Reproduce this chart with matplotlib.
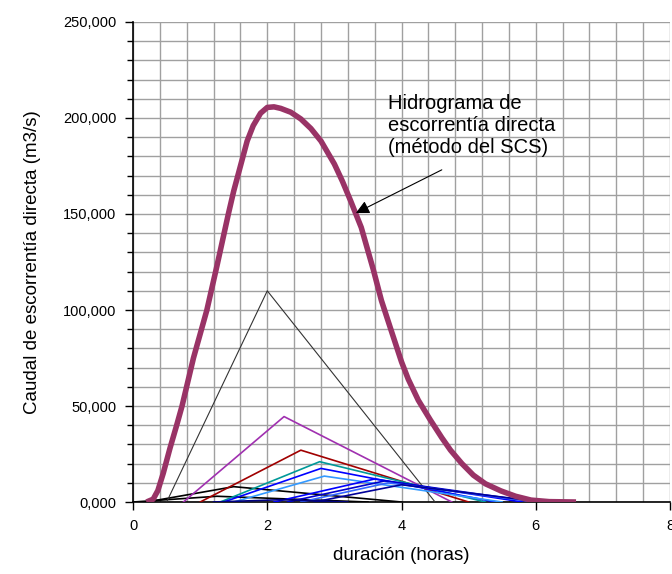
import numpy as np
import matplotlib.pyplot as plt
from matplotlib.ticker import MultipleLocator

plt.rcParams['font.family'] = ['Liberation Sans', 'DejaVu Sans']

# hidrograma total (metodo del SCS)
t_total = [0.2, 0.3, 0.37, 0.45, 0.55, 0.65, 0.73, 0.9, 1.1, 1.25, 1.42, 1.5, 1.6, 1.7,
           1.79, 1.9, 2.0, 2.1, 2.2, 2.35, 2.5, 2.65, 2.8, 3.0, 3.12, 3.24, 3.4, 3.58,
           3.7, 3.84, 4.0, 4.1, 4.25, 4.43, 4.6, 4.73, 4.9, 5.07, 5.25, 5.48, 5.7,
           5.93, 6.2, 6.6]
q_total = [0, 1500, 6000, 15000, 28000, 40000, 50000, 75000, 100000, 123000, 150000,
           162000, 175000, 188000, 196000, 202500, 205500, 205800, 205000, 203000,
           199500, 194500, 188000, 176000, 167000, 157000, 143000, 121000, 105000,
           90000, 73000, 64000, 53000, 42700, 33500, 27000, 20000, 14000, 9500, 5800,
           3000, 1000, 200, 0]

# hidrogramas unitarios triangulares (inicio, pico, fin, caudal pico)
sub_start = [0.0, 0.2, 0.5, 0.75, 1.0, 1.3, 1.35, 1.5, 2.1, 2.3, 2.5, 2.7, 1.2]
sub_peak_t = [1.25, 1.5, 2.0, 2.25, 2.5, 2.78, 2.8, 2.85, 3.6, 3.75, 3.8, 4.0, 2.2]
sub_end = [3.5, 4.0, 4.5, 4.75, 5.0, 5.25, 5.4, 5.5, 5.8, 6.0, 6.0, 6.1, 3.2]
sub_peak_q = [3000, 8000, 110000, 44500, 27000, 21000, 17500, 13500, 12000, 11000, 10000,
              9000, 1200]
sub_colors = ['#000000', '#000000', '#333333', '#A030B0', '#A00000', '#009999', '#0000FF',
              '#3399FF', '#0000FF', '#0000CC', '#3366FF', '#000099', '#000080']

y_ticks = [0, 50000, 100000, 150000, 200000, 250000]
y_labels = ['0,000', '50,000', '100,000', '150,000', '200,000', '250,000']
x_ticks = [0, 2, 4, 6, 8]

fig = plt.figure(figsize=(6.72, 5.74), dpi=100)
ax = fig.add_axes([0.198, 0.1254, 0.799, 0.8363])

for s, p, e, q, c in zip(sub_start, sub_peak_t, sub_end, sub_peak_q, sub_colors):
    lw = 0.8 if c == '#333333' else 1.2
    ax.plot([s, p, e], [0, q, 0], color=c, lw=lw, zorder=3)

ax.plot(t_total, q_total, color='#993366', lw=4, zorder=4,
        solid_capstyle='butt', solid_joinstyle='round')

ax.text(3.8, 212500, 'Hidrograma de\nescorrentía directa\n(método del SCS)',
        fontsize=14.5, va='top', ha='left', zorder=5, linespacing=1.2)
ax.annotate('', xy=(3.32, 150500), xytext=(4.6, 173000),
            arrowprops=dict(arrowstyle='-|>,head_length=0.8,head_width=0.4',
                            color='black', lw=0.8, shrinkA=0, shrinkB=0),
            zorder=5)

ax.set_xlim(0, 8)
ax.set_ylim(0, 250000)
ax.set_xticks(x_ticks)
ax.set_yticks(y_ticks)
ax.set_yticklabels(y_labels)
ax.xaxis.set_minor_locator(MultipleLocator(0.4))
ax.yaxis.set_minor_locator(MultipleLocator(10000))
ax.grid(which='both', color='#A0A0A0', lw=1, zorder=0)
ax.set_axisbelow(True)
ax.tick_params(axis='both', which='major', direction='out', length=6, width=1,
               labelsize=10.5, pad=6)
ax.tick_params(axis='y', which='minor', direction='out', length=4, width=1)
ax.tick_params(axis='x', which='minor', length=0)
for side in ['top', 'right']:
    ax.spines[side].set_visible(False)
for side in ['left', 'bottom']:
    ax.spines[side].set_linewidth(1.2)

ax.set_xlabel('duración (horas)', fontsize=13.5, labelpad=10)
ax.set_ylabel('Caudal de escorrentía directa (m3/s)', fontsize=13.5, labelpad=16)

fig.savefig('out.png', dpi=100)
